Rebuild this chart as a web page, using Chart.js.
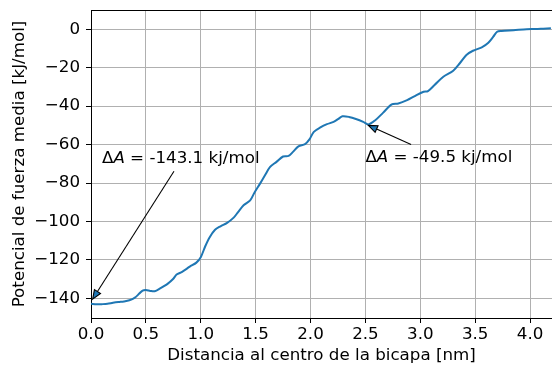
<!DOCTYPE html>
<html><head><meta charset="utf-8">
<script src="https://cdn.jsdelivr.net/npm/chart.js@4/dist/chart.umd.min.js"></script>
<style>html,body{margin:0;padding:0;background:#fff}canvas{display:block}</style>
</head><body>
<canvas id="c" width="552" height="366"></canvas>
<script>
// ---- data ----
const distance = [0.00,0.05,0.10,0.15,0.20,0.25,0.30,0.35,0.40,0.44,0.47,0.50,0.54,0.58,0.63,0.70,0.75,0.78,0.83,0.90,0.96,1.00,1.04,1.08,1.13,1.18,1.24,1.30,1.34,1.39,1.45,1.49,1.54,1.585,1.63,1.69,1.75,1.80,1.84,1.89,1.95,1.99,2.03,2.09,2.15,2.21,2.25,2.29,2.35,2.42,2.48,2.527,2.59,2.66,2.74,2.80,2.88,2.94,3.03,3.07,3.13,3.21,3.30,3.36,3.42,3.48,3.56,3.62,3.665,3.70,3.74,3.85,3.97,4.05,4.12,4.19];
const pmf = [-142.8,-143.1,-143.0,-142.8,-142.3,-141.9,-141.6,-141.0,-139.6,-137.5,-135.9,-135.6,-136.1,-136.3,-134.8,-132.3,-129.8,-127.6,-126.2,-123.5,-121.4,-118.6,-113.0,-108.3,-104.3,-102.5,-100.7,-98.0,-95.1,-91.6,-89.0,-84.9,-80.3,-76.0,-71.7,-69.0,-66.2,-65.9,-63.8,-60.9,-59.8,-57.3,-53.4,-51.1,-49.4,-48.2,-46.8,-45.3,-45.6,-46.8,-48.2,-49.5,-47.3,-43.5,-39.1,-38.6,-36.9,-35.1,-32.5,-32.2,-29.0,-24.7,-21.6,-17.7,-13.4,-11.2,-9.4,-7.0,-3.9,-1.3,-0.9,-0.5,0.0,0.1,0.3,0.5];
const xTicks = [0.0,0.5,1.0,1.5,2.0,2.5,3.0,3.5,4.0];
const yTicks = [-140,-120,-100,-80,-60,-40,-20,0];
const xLabel = 'Distancia al centro de la bicapa [nm]';
const yLabel = 'Potencial de fuerza media [kJ/mol]';
const annotationValues = ['-143.1 kj/mol', '-49.5 kj/mol'];

// ---- annotation geometry (data coordinates) ----
const annotationGeometry = [
  {tx:0.10, ty:-69.6, ax:0.756, ay:-73.9, bx:0.015, by:-140.4},
  {tx:2.50, ty:-69.3, ax:2.916, ay:-59.9, bx:2.527, by:-50.0}
];

const FONT = 'DejaVu Sans';
const FS = 16.7;
Chart.defaults.font.family = FONT;
Chart.defaults.font.size = FS;
Chart.defaults.color = '#000';

const annotPlugin = {
  id: 'annot',
  afterDraw(chart) {
    const {ctx, chartArea, scales:{x, y}} = chart;
    ctx.save();
    // top spine
    ctx.strokeStyle = '#000';
    ctx.lineWidth = 1;
    ctx.beginPath();
    ctx.moveTo(chartArea.left, Math.round(chartArea.top) + 0.5);
    ctx.lineTo(chartArea.right, Math.round(chartArea.top) + 0.5);
    ctx.stroke();

    annotationGeometry.forEach((g, i) => {
      let px = x.getPixelForValue(g.tx);
      const py = y.getPixelForValue(g.ty);
      ctx.fillStyle = '#000';
      ctx.textBaseline = 'alphabetic';
      ctx.textAlign = 'left';
      ctx.font = FS + 'px "' + FONT + '"';
      ctx.fillText('\u0394', px, py);
      px += ctx.measureText('\u0394').width;
      ctx.font = 'italic ' + FS + 'px "' + FONT + '"';
      ctx.fillText('A', px, py);
      px += ctx.measureText('A').width;
      ctx.font = FS + 'px "' + FONT + '"';
      ctx.fillText(' = ' + annotationValues[i], px, py);

      const x0 = x.getPixelForValue(g.ax), y0 = y.getPixelForValue(g.ay);
      const x1 = x.getPixelForValue(g.bx), y1 = y.getPixelForValue(g.by);
      const ang = Math.atan2(y1 - y0, x1 - x0);
      const hl = 9, hw = 3.6;
      const bxp = x1 - hl * Math.cos(ang), byp = y1 - hl * Math.sin(ang);
      ctx.strokeStyle = '#000';
      ctx.lineWidth = 1.1;
      ctx.beginPath();
      ctx.moveTo(x0, y0);
      ctx.lineTo(bxp, byp);
      ctx.stroke();
      ctx.beginPath();
      ctx.moveTo(x1, y1);
      ctx.lineTo(bxp + hw * Math.sin(ang), byp - hw * Math.cos(ang));
      ctx.lineTo(bxp - hw * Math.sin(ang), byp + hw * Math.cos(ang));
      ctx.closePath();
      ctx.fillStyle = '#1f77b4';
      ctx.fill();
      ctx.stroke();
    });
    ctx.restore();
  }
};

new Chart(document.getElementById('c'), {
  type: 'line',
  data: {
    datasets: [{
      data: distance.map((d, i) => ({x: d, y: pmf[i]})),
      borderColor: '#1f77b4',
      borderWidth: 2,
      pointRadius: 0,
      tension: 0.3,
      fill: false
    }]
  },
  options: {
    responsive: false,
    animation: false,
    events: [],
    layout: {padding: {top: 10, right: 0, left: 0, bottom: 0}},
    plugins: {legend: {display: false}, tooltip: {enabled: false}},
    scales: {
      x: {
        type: 'linear',
        min: 0, max: 4.2,
        afterBuildTicks: ax => { ax.ticks = xTicks.map(v => ({value: v})); },
        afterFit: s => { s.height = 48; s.paddingLeft = 0; s.paddingRight = 0; },
        ticks: {padding: 1.5, font: {size: FS}, callback: v => Number(v).toFixed(1), maxRotation: 0, autoSkip: false},
        grid: {color: '#b0b0b0', lineWidth: 1, tickLength: 5, tickColor: '#000', tickWidth: 1},
        border: {display: true, color: '#000', width: 1},
        title: {display: true, text: xLabel, font: {size: FS, lineHeight: 1.2}, padding: {top: 0, bottom: 0}}
      },
      y: {
        type: 'linear',
        min: -150.2, max: 10,
        afterBuildTicks: ax => { ax.ticks = yTicks.map(v => ({value: v})); },
        afterFit: s => { s.width = 91; s.paddingTop = 0; s.paddingBottom = 0; },
        ticks: {padding: 6, font: {size: FS}, callback: v => String(v).replace('-', '\u2212'), autoSkip: false},
        grid: {color: '#b0b0b0', lineWidth: 1, tickLength: 5, tickColor: '#000', tickWidth: 1},
        border: {display: true, color: '#000', width: 1},
        title: {display: true, text: yLabel, font: {size: FS, lineHeight: 1.2}, padding: {top: 9.5, bottom: 0}}
      }
    }
  },
  plugins: [annotPlugin]
});
</script>
</body></html>
